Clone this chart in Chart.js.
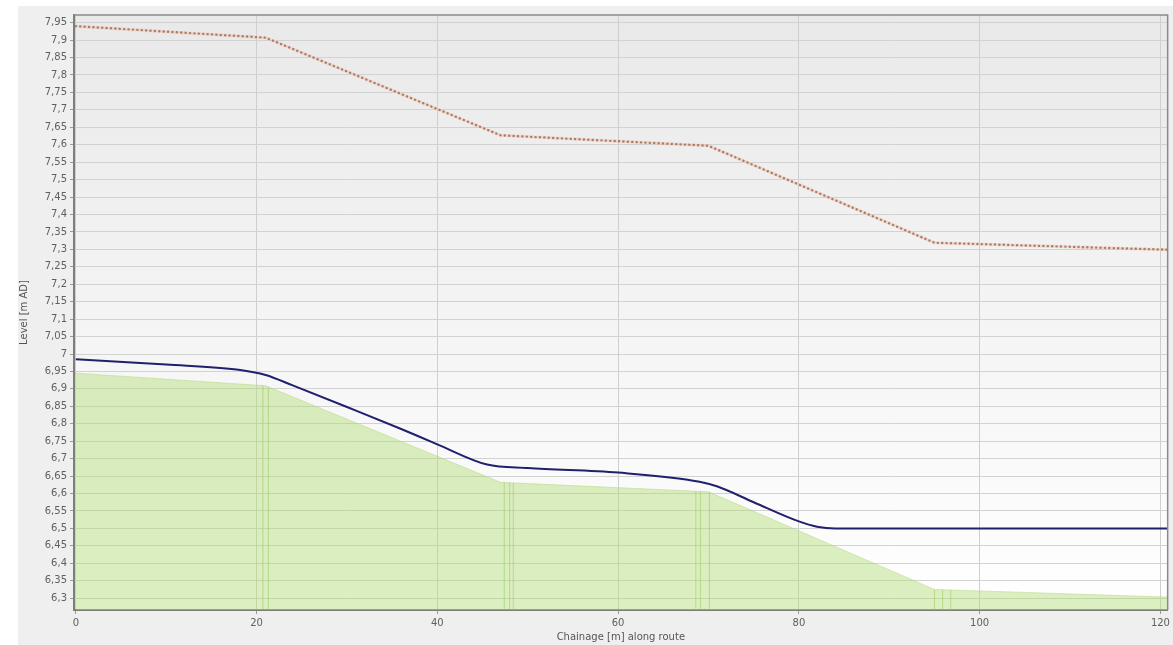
<!DOCTYPE html>
<html>
<head>
<meta charset="utf-8">
<script src="https://cdn.jsdelivr.net/npm/chart.js@4.4.0/dist/chart.umd.min.js"></script>
<style>
    html, body { margin: 0; padding: 0; background: #ffffff; }
    #wrap { position: relative; width: 1173px; height: 645px; }
</style>
</head>
<body>
<div id="wrap"><canvas id="profileChart" width="1173" height="645"></canvas></div>
<script>
// ==================== Data ====================
const groundX = [0, 21, 47, 70, 95, 120.8];
const groundY = [6.945, 6.909, 6.632, 6.605, 6.325, 6.303];

const coverX = [0, 21, 47, 70, 95, 120.8];
const coverY = [7.94, 7.907, 7.627, 7.597, 7.319, 7.299];

const waterX = [0, 10, 18, 21, 24, 30, 36, 40, 45.5, 50, 60, 69, 71, 75, 80, 82, 84, 120.8];
const waterY = [6.985, 6.97, 6.955, 6.94, 6.91, 6.848, 6.785, 6.741, 6.683, 6.673, 6.66, 6.634, 6.62, 6.575, 6.52, 6.505, 6.5, 6.5];

// vertical node markers (chainage, level of ground at marker)
const nodeX = [20.7, 21.3, 47.4, 48.0, 48.4, 68.6, 69.1, 70.1, 95.0, 95.9, 96.8];
const nodeTop = [6.91, 6.905, 6.632, 6.631, 6.63, 6.607, 6.607, 6.604, 6.325, 6.324, 6.323];

const xTitle = 'Chainage [m] along route';
const yTitle = 'Level [m AD]';

// ==================== Helpers ====================
function toPoints(xs, ys) {
    return xs.map((x, i) => ({ x: x, y: ys[i] }));
}

function fmtComma(v) {
    return String(Math.round(v * 100) / 100).replace('.', ',');
}

// panel + plot background
const backdrop = {
    id: 'backdrop',
    beforeDraw(chart) {
        const ctx = chart.ctx;
        const a = chart.chartArea;
        ctx.save();
        ctx.fillStyle = '#efefef';
        ctx.fillRect(18, 6, chart.width - 18, chart.height - 6);
        const g = ctx.createLinearGradient(0, a.top, 0, a.bottom);
        g.addColorStop(0, '#e9e9e9');
        g.addColorStop(1, '#ffffff');
        ctx.fillStyle = g;
        ctx.fillRect(a.left, a.top, a.right - a.left, a.bottom - a.top);
        ctx.restore();
    },
    afterDraw(chart) {
        const ctx = chart.ctx;
        const a = chart.chartArea;
        ctx.save();
        ctx.strokeStyle = '#8a8a8a';
        ctx.lineWidth = 1.5;
        ctx.beginPath();
        ctx.moveTo(a.left, a.top);
        ctx.lineTo(a.right, a.top);
        ctx.lineTo(a.right, a.bottom);
        ctx.stroke();
        ctx.restore();
    }
};

// ==================== Datasets ====================
const datasets = [];

datasets.push({
    label: 'Ground',
    data: toPoints(groundX, groundY),
    borderColor: 'rgba(180, 218, 130, 0.5)',
    borderWidth: 1,
    backgroundColor: 'rgba(178, 220, 118, 0.45)',
    fill: 'start',
    tension: 0,
    pointRadius: 0,
    order: 10
});

nodeX.forEach((x, i) => {
    datasets.push({
        label: 'Node ' + (i + 1),
        data: [{ x: x, y: 6.2 }, { x: x, y: nodeTop[i] }],
        borderColor: 'rgba(150, 200, 90, 0.55)',
        borderWidth: 1,
        fill: false,
        pointRadius: 0,
        order: 9
    });
});

datasets.push({
    label: 'Cover halo',
    data: toPoints(coverX, coverY),
    borderColor: 'rgba(240, 195, 175, 0.5)',
    borderWidth: 3,
    fill: false,
    tension: 0,
    pointRadius: 0,
    order: 3
});

datasets.push({
    label: 'Cover',
    data: toPoints(coverX, coverY),
    borderColor: '#ad7c68',
    borderWidth: 2.4,
    borderDash: [0.1, 4.3],
    borderCapStyle: 'round',
    fill: false,
    tension: 0,
    pointRadius: 0,
    order: 2
});

datasets.push({
    label: 'Water level',
    data: toPoints(waterX, waterY),
    borderColor: '#20206f',
    borderWidth: 2,
    fill: false,
    cubicInterpolationMode: 'monotone',
    pointRadius: 0,
    order: 1
});

// ==================== Chart ====================
const tickFont = { family: 'DejaVu Sans', size: 10 };

const ctx = document.getElementById('profileChart').getContext('2d');
const profileChart = new Chart(ctx, {
    type: 'line',
    data: { datasets: datasets },
    options: {
        responsive: false,
        animation: false,
        layout: { padding: { left: 18, top: 15, right: 3, bottom: 0 } },
        plugins: {
            legend: { display: false },
            tooltip: { enabled: false }
        },
        scales: {
            x: {
                type: 'linear',
                min: -0.2,
                max: 120.8,
                afterFit(scale) { scale.height = 35; },
                ticks: {
                    stepSize: 20,
                    includeBounds: false,
                    maxRotation: 0,
                    color: '#606060',
                    font: tickFont,
                    padding: 3
                },
                grid: {
                    color: '#cfcfcf',
                    tickLength: 4,
                    tickColor: '#9a9a9a'
                },
                border: { color: '#7a7f78', width: 2 },
                title: {
                    display: true,
                    text: xTitle,
                    color: '#555555',
                    font: tickFont,
                    padding: { top: 0, bottom: 2 }
                }
            },
            y: {
                min: 6.266,
                max: 7.972,
                afterFit(scale) { scale.width = 56; },
                ticks: {
                    stepSize: 0.05,
                    includeBounds: false,
                    autoSkip: false,
                    color: '#606060',
                    font: tickFont,
                    padding: 3,
                    callback: (v) => fmtComma(v)
                },
                grid: {
                    color: '#d2d2d2',
                    tickLength: 4,
                    tickColor: '#9a9a9a'
                },
                border: { color: '#7a7f78', width: 2 },
                title: {
                    display: true,
                    text: yTitle,
                    color: '#555555',
                    font: tickFont,
                    padding: { top: 0, bottom: 0 }
                }
            }
        }
    },
    plugins: [backdrop]
});
</script>
</body>
</html>
